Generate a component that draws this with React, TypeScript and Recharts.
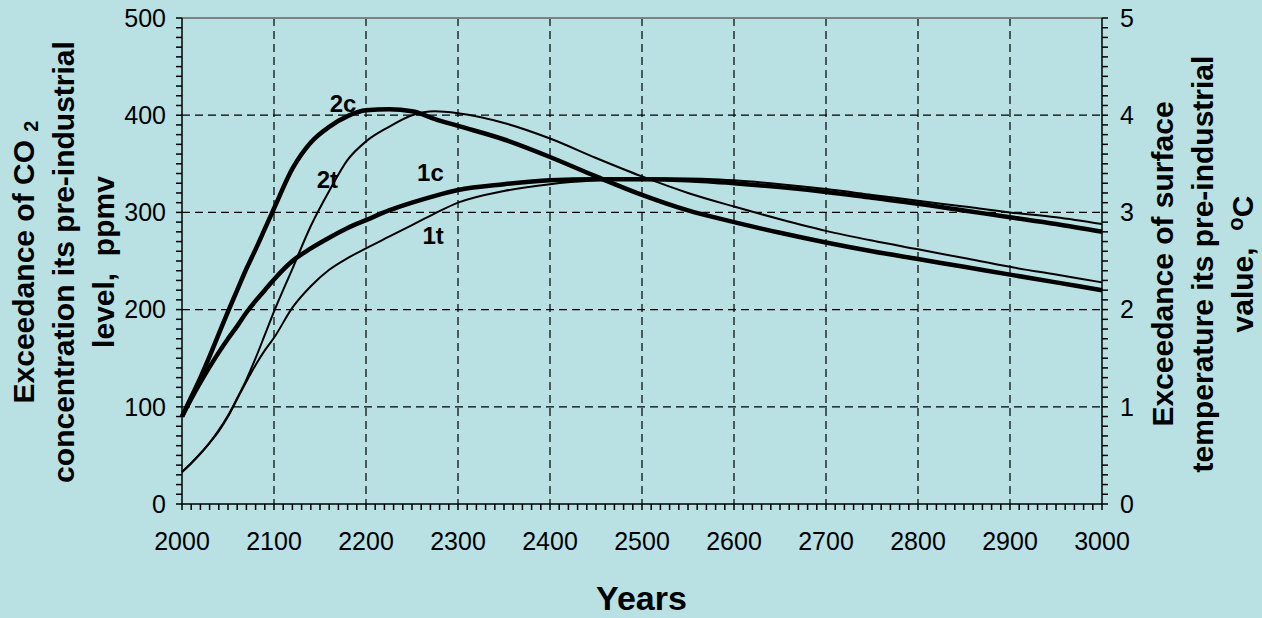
import {
  CartesianGrid,
  Line,
  LineChart,
  ReferenceDot,
  ReferenceLine,
  XAxis,
  YAxis,
} from 'recharts';

const years = [
  2000, 2010, 2020, 2030, 2040, 2050, 2060, 2070, 2080, 2090, 2100, 2120, 2140, 2160, 2180, 2200,
  2225, 2250, 2275, 2300, 2350, 2400, 2450, 2500, 2550, 2600, 2650, 2700, 2750, 2800, 2850, 2900,
  2950, 3000,
];

// CO2 exceedance, ppmv (left axis)
const co2Case1 = [
  90, 108, 125, 141, 156, 170, 183, 197, 209, 220, 231, 250, 263, 274, 284, 292, 302, 310, 317, 323,
  329, 333, 334, 334, 333, 330, 326, 321, 315, 309, 302, 295, 288, 280,
];
const co2Case2 = [
  90, 110, 130, 152, 175, 198, 220, 242, 262, 283, 304, 345, 372, 388, 399, 405, 406, 404, 396, 389,
  375, 357, 337, 318, 302, 290, 279, 269, 260, 252, 244, 236, 228, 220,
];

// surface temperature exceedance, degC (right axis)
const tempCase1 = [
  0.33, 0.42, 0.52, 0.63, 0.75, 0.9, 1.08, 1.26, 1.43, 1.58, 1.71, 2.02, 2.24, 2.41, 2.53, 2.63,
  2.75, 2.87, 2.99, 3.1, 3.22, 3.29, 3.33, 3.35, 3.35, 3.33, 3.29, 3.24, 3.18, 3.12, 3.06, 3.0,
  2.95, 2.88,
];
const tempCase2 = [
  0.33, 0.42, 0.52, 0.63, 0.76, 0.91, 1.09, 1.28, 1.5, 1.74, 1.98, 2.42, 2.86, 3.22, 3.54, 3.73,
  3.88, 4.0, 4.04, 4.02, 3.92, 3.76, 3.56, 3.37, 3.2, 3.06, 2.93, 2.81, 2.71, 2.62, 2.53, 2.44,
  2.36, 2.28,
];

const curveLabels = [
  { text: '2c', year: 2175, value: 412 },
  { text: '2t', year: 2158, value: 334 },
  { text: '1c', year: 2270, value: 341 },
  { text: '1t', year: 2273, value: 276 },
];

const data = years.map((year, i) => ({
  year,
  c1: co2Case1[i],
  c2: co2Case2[i],
  t1: tempCase1[i],
  t2: tempCase2[i],
}));

const xTicks = Array.from({ length: 101 }, (_, i) => 2000 + i * 10);
const leftTicks = Array.from({ length: 51 }, (_, i) => i * 10);
const rightTicks = Array.from({ length: 51 }, (_, i) => i / 10);

const FONT = '"Liberation Sans", Arial, sans-serif';
const BG = '#b9e0e3';
const tickStyle = { fontSize: 25, fill: '#000', fontFamily: FONT };

const every = (step: number) => (v: number) =>
  Math.abs(v / step - Math.round(v / step)) < 1e-6 ? String(Math.round(v)) : '';

const titleStyle = {
  position: 'absolute' as const,
  width: 520,
  left: 0,
  top: 0,
  textAlign: 'center' as const,
  fontFamily: FONT,
  fontWeight: 'bold' as const,
  fontSize: 30,
  lineHeight: '40px',
  color: '#000',
  whiteSpace: 'nowrap' as const,
};

export default function App() {
  return (
    <div style={{ position: 'relative', width: 1262, height: 618, background: BG }}>
      <style>{'body{margin:0}'}</style>
      <LineChart
        width={1262}
        height={618}
        data={data}
        margin={{ top: 18, right: 100, left: 122, bottom: 74 }}
      >
        <CartesianGrid
          yAxisId="left"
          stroke="#000"
          strokeWidth={1.2}
          strokeDasharray="8 5"
          horizontalValues={[100, 200, 300, 400]}
          verticalValues={[2100, 2200, 2300, 2400, 2500, 2600, 2700, 2800, 2900]}
        />
        <XAxis
          dataKey="year"
          type="number"
          domain={[2000, 3000]}
          ticks={xTicks}
          interval={0}
          tickFormatter={every(100)}
          tick={tickStyle}
          tickSize={6}
          tickMargin={22}
          height={40}
          axisLine={{ stroke: '#000', strokeWidth: 1.5 }}
          tickLine={{ stroke: '#000', strokeWidth: 1.5 }}
        />
        <YAxis
          yAxisId="left"
          domain={[0, 500]}
          ticks={leftTicks}
          interval={0}
          tickFormatter={every(100)}
          tick={tickStyle}
          tickSize={6}
          tickMargin={10}
          width={60}
          axisLine={{ stroke: '#000', strokeWidth: 1.5 }}
          tickLine={{ stroke: '#000', strokeWidth: 1.5 }}
        />
        <YAxis
          yAxisId="right"
          orientation="right"
          domain={[0, 5]}
          ticks={rightTicks}
          interval={0}
          tickFormatter={every(1)}
          tick={tickStyle}
          tickSize={6}
          tickMargin={12}
          width={60}
          axisLine={{ stroke: '#000', strokeWidth: 1.5 }}
          tickLine={{ stroke: '#000', strokeWidth: 1.5 }}
        />
        <ReferenceLine yAxisId="left" y={500} stroke="#808080" strokeWidth={2} />
        <Line yAxisId="right" dataKey="t1" type="monotone" stroke="#000" strokeWidth={2} dot={false} isAnimationActive={false} />
        <Line yAxisId="right" dataKey="t2" type="monotone" stroke="#000" strokeWidth={2} dot={false} isAnimationActive={false} />
        <Line yAxisId="left" dataKey="c1" type="monotone" stroke="#000" strokeWidth={4.5} dot={false} isAnimationActive={false} />
        <Line yAxisId="left" dataKey="c2" type="monotone" stroke="#000" strokeWidth={4.5} dot={false} isAnimationActive={false} />
        {curveLabels.map((l) => (
          <ReferenceDot
            key={l.text}
            yAxisId="left"
            x={l.year}
            y={l.value}
            r={1}
            fillOpacity={0}
            stroke="none"
            label={{
              value: l.text,
              position: 'center',
              fontSize: 24,
              fontWeight: 'bold',
              fill: '#000',
              fontFamily: FONT,
            }}
          />
        ))}
      </LineChart>
      <div
        style={{
          ...titleStyle,
          transform: 'translate(-196px, 202px) rotate(-90deg)',
        }}
      >
        <div>
          Exceedance of CO{' '}
          <span style={{ fontSize: 20, verticalAlign: -4, lineHeight: 0 }}>2</span>
        </div>
        <div>concentration its pre-industrial</div>
        <div>level,&nbsp; ppmv</div>
      </div>
      <div
        style={{
          ...titleStyle,
          transform: 'translate(943px, 204px) rotate(-90deg)',
        }}
      >
        <div>Exceedance of surface</div>
        <div>temperature its pre-industrial</div>
        <div>
          value,&nbsp;{' '}
          <span style={{ fontSize: 22, verticalAlign: 10, lineHeight: 0 }}>o</span>C
        </div>
      </div>
      <div
        style={{
          position: 'absolute',
          left: 0,
          width: 1283,
          top: 578,
          textAlign: 'center',
          fontFamily: FONT,
          fontWeight: 'bold',
          fontSize: 34,
          lineHeight: '40px',
        }}
      >
        Years
      </div>
    </div>
  );
}
